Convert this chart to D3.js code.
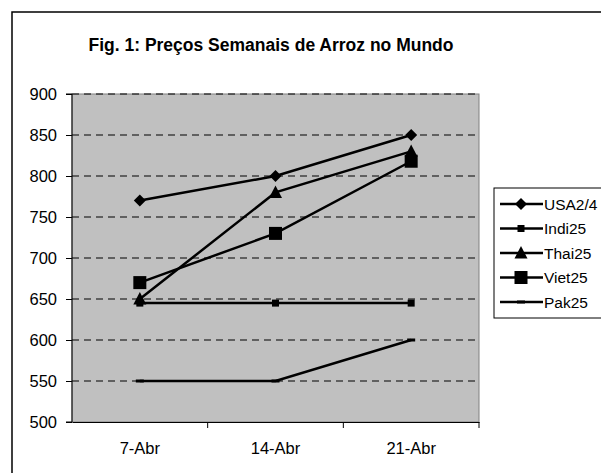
<!DOCTYPE html>
<html>
<head>
<meta charset="utf-8">
<script src="https://cdn.jsdelivr.net/npm/d3@7"></script>
<style>
  body { margin: 0; background: #fff; }
  text { font-family: "Liberation Sans", Arial, sans-serif; }
</style>
</head>
<body>
<div id="chart"></div>
<script>
// data
var categories = ["7-Abr", "14-Abr", "21-Abr"];
var usa   = [770, 800, 850];
var indi  = [645, 645, 645];
var thai  = [650, 780, 830];
var viet  = [670, 730, 818];
var pak   = [550, 550, 600];
var seriesNames = ["USA2/4", "Indi25", "Thai25", "Viet25", "Pak25"];
var yTicks = [500, 550, 600, 650, 700, 750, 800, 850, 900];

var series = [
  {name: seriesNames[0], values: usa,  marker: "diamond"},
  {name: seriesNames[1], values: indi, marker: "smallsquare"},
  {name: seriesNames[2], values: thai, marker: "triangle"},
  {name: seriesNames[3], values: viet, marker: "square"},
  {name: seriesNames[4], values: pak,  marker: "dash"}
];

var w = 601, h = 473;
var plot = {left: 72, top: 94, right: 479, bottom: 422};

var svg = d3.select("#chart")
            .append("svg")
            .attr("width", w)
            .attr("height", h);

// outer frame (runs off the right and bottom)
svg.append("rect")
   .attr("x", 12).attr("y", 12)
   .attr("width", 700).attr("height", 600)
   .attr("fill", "#fff")
   .attr("stroke", "#000")
   .attr("stroke-width", 1.5);

svg.append("text")
   .attr("x", 271).attr("y", 51)
   .attr("text-anchor", "middle")
   .attr("font-size", "17.5px")
   .attr("font-weight", "bold")
   .text("Fig. 1: Preços Semanais de Arroz no Mundo");

var x = d3.scaleBand()
          .domain(categories)
          .range([plot.left, plot.right]);

var y = d3.scaleLinear()
          .domain([500, 900])
          .range([plot.bottom, plot.top]);

// plot area
svg.append("rect")
   .attr("x", plot.left).attr("y", plot.top)
   .attr("width", plot.right - plot.left)
   .attr("height", plot.bottom - plot.top)
   .attr("fill", "#c0c0c0")
   .attr("stroke", "#808080")
   .attr("stroke-width", 1);

// gridlines
svg.selectAll("line.grid")
   .data(yTicks.slice(1))
   .enter()
   .append("line")
   .attr("class", "grid")
   .attr("x1", plot.left).attr("x2", plot.right)
   .attr("y1", function(d) { return y(d); })
   .attr("y2", function(d) { return y(d); })
   .attr("stroke", "#000")
   .attr("stroke-width", 1)
   .attr("stroke-dasharray", "7,5");

// axes
var yAxis = d3.axisLeft(y).tickValues(yTicks).tickSize(6).tickPadding(9);
var gy = svg.append("g")
   .attr("transform", "translate(" + plot.left + ",0)")
   .call(yAxis);

var xAxis = d3.axisBottom(x).tickSize(0).tickPadding(20);
var gx = svg.append("g")
   .attr("transform", "translate(0," + plot.bottom + ")")
   .call(xAxis);

// category boundary ticks
gx.selectAll("line.sep")
  .data(categories)
  .enter()
  .append("line")
  .attr("class", "sep")
  .attr("x1", function(d) { return x(d) + x.bandwidth(); })
  .attr("x2", function(d) { return x(d) + x.bandwidth(); })
  .attr("y1", 0).attr("y2", 6)
  .attr("stroke", "#000");

[gx, gy].forEach(function(g) {
  g.select(".domain").attr("stroke", "#000").attr("stroke-width", 1);
  g.selectAll("text")
   .attr("font-size", "16.5px")
   .attr("font-family", "Liberation Sans, Arial, sans-serif")
   .attr("fill", "#000");
});
gy.select(".domain").attr("d", "M-6," + plot.top + "H0V" + plot.bottom + "H-6");

function drawMarker(g, type, cx, cy) {
  if (type === "diamond") {
    g.append("path")
     .attr("d", d3.symbol().type(d3.symbolSquare).size(72)())
     .attr("transform", "translate(" + cx + "," + cy + ") rotate(45)");
  } else if (type === "smallsquare") {
    g.append("rect").attr("x", cx - 3.5).attr("y", cy - 3.5)
     .attr("width", 7).attr("height", 7);
  } else if (type === "square") {
    g.append("rect").attr("x", cx - 6.5).attr("y", cy - 6.5)
     .attr("width", 13).attr("height", 13);
  } else if (type === "triangle") {
    g.append("path")
     .attr("d", "M" + cx + "," + (cy - 7) + "L" + (cx + 6.5) + "," + (cy + 5.5) +
                "L" + (cx - 6.5) + "," + (cy + 5.5) + "Z");
  } else if (type === "dash") {
    g.append("rect").attr("x", cx - 4).attr("y", cy - 1.5)
     .attr("width", 8).attr("height", 3);
  }
}

var line = d3.line()
  .x(function(d, i) { return x(categories[i]) + x.bandwidth() / 2; })
  .y(function(d) { return y(d); });

series.forEach(function(s) {
  var g = svg.append("g").attr("fill", "#000");
  g.append("path")
   .attr("d", line(s.values))
   .attr("fill", "none")
   .attr("stroke", "#000")
   .attr("stroke-width", 2.5);
  s.values.forEach(function(v, i) {
    drawMarker(g, s.marker, x(categories[i]) + x.bandwidth() / 2, y(v));
  });
});

// legend
var leg = svg.append("g");
leg.append("rect")
   .attr("x", 494).attr("y", 188)
   .attr("width", 200).attr("height", 130)
   .attr("fill", "#fff")
   .attr("stroke", "#000")
   .attr("stroke-width", 1);

series.forEach(function(s, i) {
  var ly = 204 + i * 24.5;
  var g = leg.append("g").attr("fill", "#000");
  g.append("line")
   .attr("x1", 500).attr("x2", 543)
   .attr("y1", ly).attr("y2", ly)
   .attr("stroke", "#000")
   .attr("stroke-width", 2.5);
  drawMarker(g, s.marker, 521, ly);
  g.append("text")
   .attr("x", 544).attr("y", ly + 5.5)
   .attr("font-size", "15.5px")
   .text(s.name);
});
</script>
</body>
</html>
